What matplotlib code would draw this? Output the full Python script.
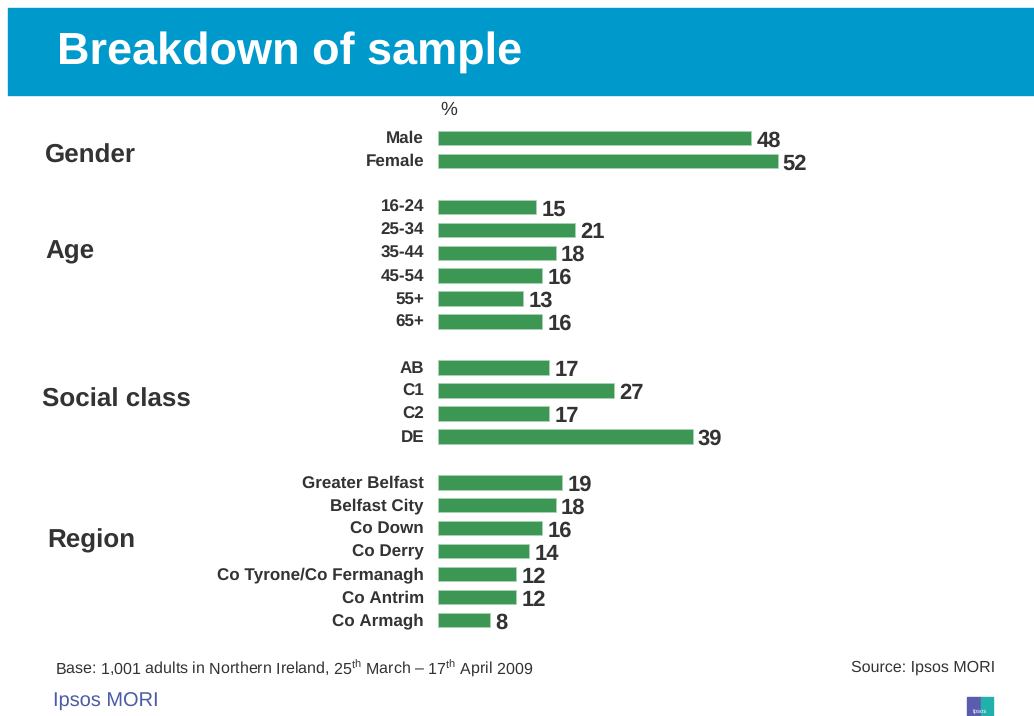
import matplotlib
matplotlib.use('Agg')
import matplotlib.pyplot as plt
from matplotlib.patches import Rectangle

plt.rcParams['font.family'] = ['Liberation Sans', 'DejaVu Sans']
plt.rcParams['mathtext.fontset'] = 'custom'
plt.rcParams['mathtext.rm'] = 'Liberation Sans'
plt.rcParams['text.hinting'] = 'no_hinting'
plt.rcParams['text.hinting_factor'] = 1

# sample breakdown, % of respondents
gender_labels = ['Male', 'Female']
gender_values = [48, 52]
age_labels = ['16-24', '25-34', '35-44', '45-54', '55+', '65+']
age_values = [15, 21, 18, 16, 13, 16]
class_labels = ['AB', 'C1', 'C2', 'DE']
class_values = [17, 27, 17, 39]
region_labels = ['Greater Belfast', 'Belfast City', 'Co Down', 'Co Derry',
                 'Co Tyrone/Co Fermanagh', 'Co Antrim', 'Co Armagh']
region_values = [19, 18, 16, 14, 12, 12, 8]

groups = [('Gender', gender_labels, gender_values),
          ('Age', age_labels, age_values),
          ('Social class', class_labels, class_values),
          ('Region', region_labels, region_values)]

# where each group heading sits: (row offset from the group's first bar, x in px)
heading_pos = [(0.78, 45), (1.98, 45), (1.43, 42), (2.55, 47)]

BAR = '#3c9755'
TXT = '#333333'

W, H = 1034, 716
PX = 6.53  # pixels per percentage point
fig = plt.figure(figsize=(W / 100, H / 100), dpi=100)

# header band
fig.patches.append(Rectangle((8 / W, 1 - 95 / H), 1 - 8 / W, 87 / H,
                             transform=fig.transFigure, color='#0099cc', zorder=0))
fig.text(57 / W, 1 - 52 / H, 'Breakdown of sample', color='white',
         fontsize=32.5, fontweight='bold', va='center', ha='left')

ax = fig.add_axes([438 / W, 1 - 631.5 / H, 562 / W, 505 / H])

row = 0
for (name, labels, values), (dy, hx) in zip(groups, heading_pos):
    start = row
    for lab, val in zip(labels, values):
        ax.barh(row, val, height=0.63, color=BAR, edgecolor='#a9d3b4', linewidth=0.6)
        ax.text(val + 0.8, row + 0.12, str(val), fontsize=16, fontweight='bold',
                color=TXT, va='center', ha='left')
        ax.text(-14 / PX, row + 0.04, lab, fontsize=12.2, fontweight='bold', color=TXT,
                va='center', ha='right')
        row += 1
    ax.text((hx - 438) / PX, start + dy, name, fontsize=19, fontweight='bold',
            color=TXT, va='center', ha='left')
    row += 1

ax.set_xlim(0, 562 / PX)
ax.set_ylim(row - 1.5, -0.5)
ax.axis('off')

fig.text(440 / W, 1 - 110 / H, '%', fontsize=14, color=TXT, va='center', ha='left')

fig.text(55 / W, 1 - 668 / H,
         r'Base: 1,001 adults in Northern Ireland, 25$^{\mathrm{th}}$ March – 17$^{\mathrm{th}}$ April 2009',
         fontsize=11.3, color=TXT, va='center', ha='left')
fig.text(995 / W, 1 - 668 / H, 'Source: Ipsos MORI', fontsize=11.4, color=TXT,
         va='center', ha='right')
fig.text(53 / W, 1 - 702 / H, 'Ipsos MORI', fontsize=14.4, color='#4a5ca6',
         va='center', ha='left')

# small logo mark
fig.patches.append(Rectangle((967 / W, 0), 14 / W, 19 / H, transform=fig.transFigure,
                             color='#5a5cae', zorder=1))
fig.patches.append(Rectangle((981 / W, 0), 12 / W, 19 / H, transform=fig.transFigure,
                             color='#22b0ac', zorder=1))
fig.text(980 / W, 2 / H, 'Ipsos', fontsize=4.5, color='white', ha='center', va='bottom')

fig.savefig('out.png', dpi=100)
